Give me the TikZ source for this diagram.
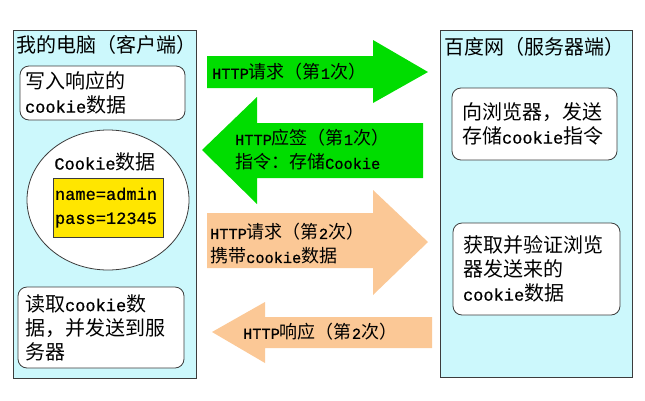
\documentclass[tikz,border=0pt]{standalone}
\usepackage{fontspec}
\setmainfont[Scale=0.85, FakeBold=0.8]{Liberation Mono}
\newfontfamily\cjk{Noto Sans CJK SC}
\usetikzlibrary{shapes.geometric}
\definecolor{panelcyan}{RGB}{204,248,252}
\definecolor{arrowgreen}{RGB}{0,221,0}
\definecolor{arrowpeach}{RGB}{251,200,150}
\definecolor{cookieyellow}{RGB}{255,230,0}
\definecolor{edgegray}{RGB}{60,60,60}
\tikzset{
    panel/.style = {draw=edgegray, fill=panelcyan, line width=1pt},
    infobox/.style = {
        draw=edgegray, fill=white,
        rounded corners=9pt, line width=0.8pt,
        align=left, inner ysep=0pt,
        font=\fontsize{20}{24}\selectfont
    },
    title/.style = {anchor=west, inner sep=0pt, font=\fontsize{20}{24}\selectfont},
    msg/.style = {anchor=west, inner sep=0pt, align=left, font=\fontsize{18}{24}\selectfont}
}

\begin{document}
\begin{tikzpicture}[x=1pt, y=-1pt]
    \useasboundingbox (0,0) rectangle (645,400);

    % Client panel
    \draw[panel] (13,30) rectangle (196,378);
    \node[title] (clienttitle) at (16,45) {{\cjk 我的电脑（客户端）}};

    \node[infobox, inner xsep=5pt, text width=155pt, minimum height=54pt]
        (writecookie) at (102.5,93) {{\cjk 写入响应的}\\cookie{\cjk 数据}};

    % Cookie storage
    \node[ellipse, draw=edgegray, fill=white, line width=0.8pt,
        minimum width=162pt, minimum height=140pt] (store) at (108,200) {};
    \node[inner sep=0pt, font=\fontsize{20}{24}\selectfont]
        (storetitle) at (105,162) {Cookie{\cjk 数据}};
    \node[draw=edgegray, fill=cookieyellow, line width=0.8pt,
        align=left, inner xsep=2pt, inner ysep=0pt,
        text width=106pt, minimum height=59pt,
        font=\fontsize{20}{24}\selectfont] (cookiedata) at (108,207.5) {name=admin\\pass=12345};

    \node[infobox, inner xsep=7pt, text width=152pt, minimum height=81pt]
        (readcookie) at (101,327.5) {{\cjk 读取}cookie{\cjk 数}\\{\cjk 据，并发送到服}\\{\cjk 务器}};

    % Server panel
    \draw[panel] (440,30) rectangle (632,377);
    \node[title] (servertitle) at (444,47) {{\cjk 百度网（服务器端）}};

    \node[infobox, inner xsep=10pt, text width=145pt, minimum height=72pt]
        (sendorder) at (534.5,124) {{\cjk 向浏览器，发送}\\{\cjk 存储}cookie{\cjk 指令}};
    \node[infobox, inner xsep=10pt, text width=147pt, minimum height=92pt]
        (checkcookie) at (536.5,269) {{\cjk 获取并验证浏览}\\{\cjk 器发送来的}\\cookie{\cjk 数据}};

    % Request 1
    \fill[arrowgreen] (207,56) -- (373,56) -- (373,40) -- (428,72)
        -- (373,103) -- (373,88) -- (207,88) -- cycle;
    \node[msg] (req1) at (212,72) {HTTP{\cjk 请求（第}1{\cjk 次）}};

    % Response 1
    \fill[arrowgreen] (423,123) -- (257,123) -- (257,97) -- (202,150)
        -- (257,204) -- (257,178) -- (423,178) -- cycle;
    \node[msg] (resp1) at (235,150) {HTTP{\cjk 应签（第}1{\cjk 次）}\\{\cjk 指令：存储}Cookie};

    % Request 2
    \fill[arrowpeach] (207,213) -- (373,213) -- (373,190) -- (428,242)
        -- (373,295) -- (373,268) -- (207,268) -- cycle;
    \node[msg] (req2) at (210,244) {HTTP{\cjk 请求（第}2{\cjk 次）}\\{\cjk 携带}cookie{\cjk 数据}};

    % Response 2
    \fill[arrowpeach] (432,317) -- (265,317) -- (265,302) -- (212,332)
        -- (265,363) -- (265,348) -- (432,348) -- cycle;
    \node[msg] (resp2) at (243,332) {HTTP{\cjk 响应（第}2{\cjk 次）}};

\end{tikzpicture}
\end{document}
